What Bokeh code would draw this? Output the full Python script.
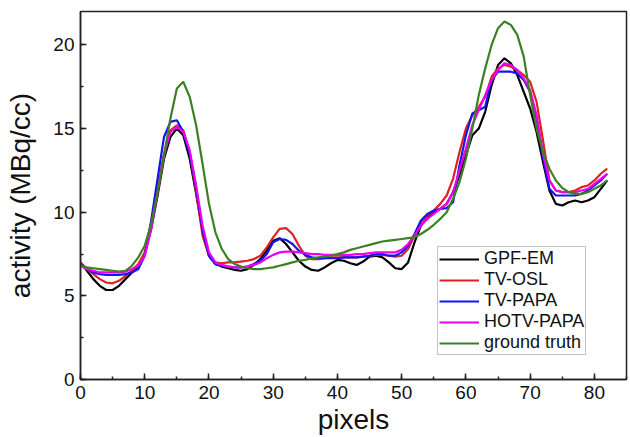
from bokeh.plotting import figure
from bokeh.models import Range1d, SingleIntervalTicker, Legend, LegendItem
from bokeh.embed import file_html
from bokeh.resources import INLINE

# Profile through the reconstructed image, one value per pixel
pixels = list(range(83))

gpf_em = [7.0, 6.5, 6.0, 5.6, 5.35, 5.35, 5.6, 6.0, 6.4, 6.8,
          7.5, 9.0, 11.0, 13.2, 14.5, 15.0, 14.6, 13.2, 11.1, 8.9,
          7.4, 6.9, 6.75, 6.65, 6.55, 6.5, 6.6, 6.85, 7.2, 7.7,
          8.3, 8.45, 8.1, 7.6, 7.1, 6.75, 6.55, 6.5, 6.7, 6.95,
          7.15, 7.1, 6.95, 6.85, 7.05, 7.35, 7.4, 7.3, 7.0, 6.65,
          6.6, 7.0, 8.2, 9.2, 9.7, 10.0, 10.2, 10.5, 11.2, 12.2,
          13.4, 14.6, 15.0, 16.0, 17.6, 18.8, 19.2, 18.9, 18.2, 17.2,
          16.2, 14.8, 13.0, 11.3, 10.5, 10.4, 10.6, 10.7, 10.6, 10.7,
          10.9, 11.4, 11.9]

tv_osl = [7.0, 6.6, 6.3, 6.0, 5.8, 5.75, 5.9, 6.2, 6.5, 6.9,
          7.6, 9.3, 11.4, 13.5, 14.9, 15.2, 14.9, 13.6, 11.2, 8.6,
          7.4, 7.0, 6.95, 7.0, 7.0, 7.05, 7.1, 7.2, 7.4, 7.9,
          8.5, 9.0, 9.05, 8.7, 8.0, 7.4, 7.2, 7.2, 7.25, 7.3,
          7.3, 7.3, 7.3, 7.3, 7.35, 7.4, 7.45, 7.45, 7.4, 7.35,
          7.4, 7.8, 8.6, 9.3, 9.8, 10.1, 10.5, 11.0, 12.0, 13.6,
          15.0, 15.8, 16.3, 16.9, 18.1, 18.6, 18.8, 18.7, 18.5, 18.2,
          17.8, 16.6, 14.3, 11.9, 11.3, 11.2, 11.2, 11.3, 11.5, 11.6,
          11.9, 12.3, 12.6]

tv_papa = [6.9, 6.6, 6.4, 6.3, 6.25, 6.25, 6.25, 6.3, 6.4, 6.6,
           7.4, 9.5, 12.0, 14.5, 15.4, 15.5, 14.8, 13.5, 11.4, 8.9,
           7.4, 6.9, 6.8, 6.75, 6.7, 6.7, 6.75, 6.9, 7.1, 7.5,
           8.2, 8.4, 8.35, 8.1, 7.7, 7.45, 7.3, 7.25, 7.25, 7.25,
           7.25, 7.3, 7.3, 7.3, 7.35, 7.4, 7.5, 7.5, 7.4, 7.4,
           7.6, 8.0, 8.7, 9.5, 9.9, 10.1, 10.2, 10.25, 10.6, 12.8,
           14.6, 15.9, 16.1, 16.3, 17.9, 18.4, 18.4, 18.4, 18.3, 17.9,
           17.2, 15.6, 13.3, 11.4, 11.0, 11.0, 11.0, 11.0, 11.1, 11.3,
           11.6, 11.9, 12.3]

hotv_papa = [6.8, 6.6, 6.5, 6.4, 6.4, 6.4, 6.4, 6.45, 6.6, 6.8,
             7.4, 9.0, 11.2, 13.4, 14.8, 15.1, 14.8, 13.7, 11.6, 9.2,
             7.6, 7.0, 6.85, 6.75, 6.7, 6.7, 6.75, 6.85, 7.0, 7.25,
             7.45, 7.6, 7.65, 7.65, 7.6, 7.55, 7.5, 7.5, 7.45, 7.45,
             7.45, 7.45, 7.45, 7.5, 7.5, 7.55, 7.6, 7.6, 7.6, 7.6,
             7.75, 8.1, 8.6, 9.2, 9.6, 9.9, 10.2, 10.5, 11.2, 12.5,
             13.8, 15.2, 16.1, 17.0, 17.9, 18.5, 18.9, 18.8, 18.5, 18.0,
             17.3, 15.8, 13.5, 11.9, 11.3, 11.2, 11.2, 11.2, 11.3, 11.4,
             11.7, 12.0, 12.3]

ground_truth = [6.8, 6.7, 6.65, 6.6, 6.55, 6.5, 6.45, 6.5, 6.8, 7.3,
                8.0, 9.3, 11.2, 13.4, 15.6, 17.4, 17.8, 16.9, 15.2, 12.9,
                10.5, 8.8, 7.8, 7.2, 6.9, 6.75, 6.65, 6.6, 6.6, 6.65,
                6.7, 6.8, 6.9, 7.0, 7.1, 7.15, 7.25, 7.3, 7.35, 7.4,
                7.5, 7.6, 7.75, 7.85, 7.95, 8.05, 8.15, 8.25, 8.3, 8.35,
                8.4, 8.45, 8.5, 8.7, 8.95, 9.25, 9.6, 10.0, 10.8, 11.8,
                13.2, 15.0, 17.0, 18.6, 20.0, 21.0, 21.4, 21.2, 20.6, 19.3,
                17.0, 15.0, 13.6, 12.6, 11.9, 11.45, 11.2, 11.1, 11.1, 11.2,
                11.4, 11.6, 11.9]

series_names = ["GPF-EM", "TV-OSL", "TV-PAPA", "HOTV-PAPA", "ground truth"]
series_values = [gpf_em, tv_osl, tv_papa, hotv_papa, ground_truth]
series_colors = ["#000000", "#dd2222", "#1414f0", "#ee00ee", "#3d8024"]

FONT = "Liberation Sans"

p = figure(width=630, height=437, output_backend="svg", toolbar_location=None,
           x_range=Range1d(0, 85), y_range=Range1d(0, 22),
           min_border_left=80, min_border_right=4,
           min_border_top=11, min_border_bottom=56)

p.background_fill_color = "white"
p.border_fill_color = "white"
p.outline_line_color = "#222222"
p.outline_line_width = 1.5
p.xgrid.visible = False
p.ygrid.visible = False

p.xaxis.ticker = SingleIntervalTicker(interval=10, num_minor_ticks=2)
p.yaxis.ticker = SingleIntervalTicker(interval=5, num_minor_ticks=2)

for ax in (p.xaxis[0], p.yaxis[0]):
    ax.axis_line_color = "#222222"
    ax.axis_line_width = 1.5
    ax.major_tick_in = 6
    ax.major_tick_out = 0
    ax.minor_tick_in = 3
    ax.minor_tick_out = 0
    ax.major_tick_line_color = "#222222"
    ax.minor_tick_line_color = "#222222"
    ax.major_tick_line_width = 1.5
    ax.minor_tick_line_width = 1.5
    ax.major_label_text_font = FONT
    ax.major_label_text_font_size = "19px"
    ax.major_label_text_color = "#111111"
    ax.axis_label_text_font = FONT
    ax.axis_label_text_font_size = "28px"
    ax.axis_label_text_font_style = "normal"
    ax.axis_label_text_color = "#111111"

p.xaxis.axis_label = "pixels"
p.yaxis.axis_label = "activity (MBq/cc)"
p.xaxis.major_label_standoff = 6
p.yaxis.major_label_standoff = 6
p.xaxis.axis_label_standoff = 2
p.yaxis.axis_label_standoff = 14

items = []
for name, vals, col in zip(series_names, series_values, series_colors):
    r = p.line(pixels, vals, line_color=col, line_width=2.2)
    items.append(LegendItem(label=name, renderers=[r]))

legend = Legend(items=items, location=(357, 24))
legend.label_text_font = FONT
legend.label_text_font_size = "18px"
legend.label_text_color = "#111111"
legend.label_height = 20
legend.label_standoff = 5
legend.glyph_width = 40
legend.glyph_height = 20
legend.spacing = -1
legend.padding = 1
legend.margin = 0
legend.border_line_color = "#888888"
legend.border_line_width = 1.2
legend.background_fill_alpha = 1.0
p.add_layout(legend, "center")

open("out.html", "w").write(file_html(p, INLINE))
